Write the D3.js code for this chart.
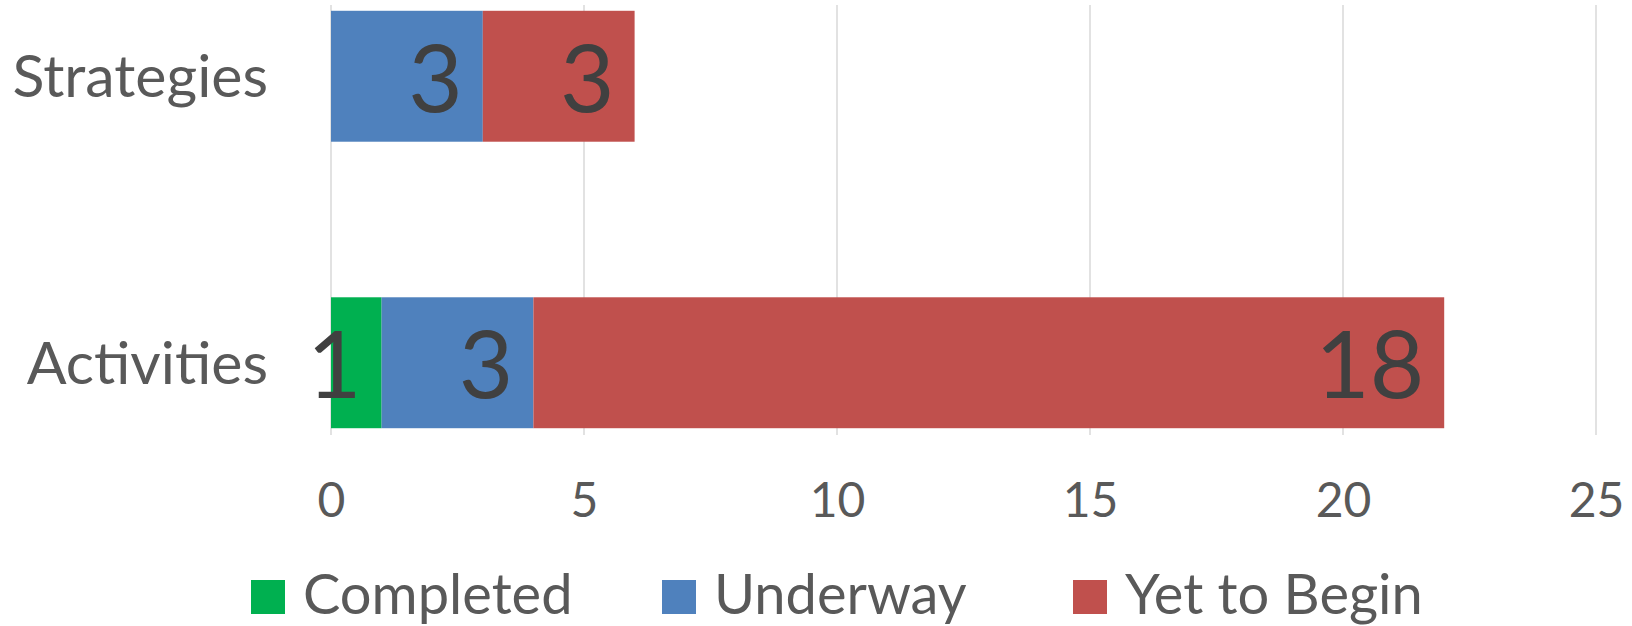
<!DOCTYPE html>
<html>
<head>
<meta charset="utf-8">
<script src="https://cdn.jsdelivr.net/npm/d3@7"></script>
<style>
  html, body { margin: 0; padding: 0; background: #fff; }
  svg text { font-family: Lato, "Open Sans", sans-serif; }
</style>
</head>
<body>
<div id="chart"></div>
<script>
// Chart data
const categories = ["Strategies", "Activities"];
const seriesNames = ["Completed", "Underway", "Yet to Begin"];
const completed = [0, 1];
const underway = [3, 3];
const yetToBegin = [3, 18];
const xTicks = [0, 5, 10, 15, 20, 25];

const width = 1632;
const height = 626;
const colors = ["#00B050", "#4F81BD", "#C0504D"];

const svg = d3.select("#chart").append("svg")
    .attr("width", width)
    .attr("height", height);

// Stack the series
const rows = categories.map((c, i) => ({
    category: c,
    "Completed": completed[i],
    "Underway": underway[i],
    "Yet to Begin": yetToBegin[i]
}));
const stacked = d3.stack().keys(seriesNames)(rows);

const x = d3.scaleLinear()
    .domain([0, 25])
    .range([331, 1596]);

const y = d3.scaleBand()
    .domain(categories)
    .range([-67, 506])
    .paddingInner(0.543)
    .paddingOuter(0.2715);

// Vertical gridlines
svg.append("g")
    .selectAll("line")
    .data(xTicks)
    .join("line")
    .attr("x1", d => x(d))
    .attr("x2", d => x(d))
    .attr("y1", 5)
    .attr("y2", 435)
    .attr("stroke", "#D9D9D9")
    .attr("stroke-width", 1.5);

// Bars
const layers = svg.append("g")
    .selectAll("g")
    .data(stacked)
    .join("g")
    .attr("fill", (d, i) => colors[i]);

layers.selectAll("rect")
    .data(d => d.filter(p => p[1] - p[0] > 0))
    .join("rect")
    .attr("x", d => x(d[0]))
    .attr("y", d => y(d.data.category))
    .attr("width", d => x(d[1]) - x(d[0]))
    .attr("height", y.bandwidth());

// Data labels, inside end
layers.selectAll("text")
    .data(d => d.filter(p => p[1] - p[0] > 0).map(p => ({ p, key: d.key })))
    .join("text")
    .attr("x", d => x(d.p[1]) - 20)
    .attr("y", d => y(d.p.data.category) + y.bandwidth() / 2)
    .attr("dy", "0.38em")
    .attr("text-anchor", "end")
    .attr("fill", "#404040")
    .style("font-size", "94px")
    .text(d => d.p[1] - d.p[0]);

// Category labels
svg.append("g")
    .selectAll("text")
    .data(categories)
    .join("text")
    .attr("x", 268)
    .attr("y", d => y(d) + y.bandwidth() / 2)
    .attr("dy", "0.36em")
    .attr("text-anchor", "end")
    .attr("fill", "#595959")
    .style("font-size", "59px")
    .text(d => d);

// X axis tick labels
const xAxis = svg.append("g")
    .attr("transform", "translate(0,435)")
    .call(d3.axisBottom(x).tickValues(xTicks).tickSize(0).tickPadding(48));
xAxis.select(".domain").remove();
xAxis.selectAll("text")
    .attr("fill", "#595959")
    .style("font-size", "48px")
    .style("font-family", "Lato, 'Open Sans', sans-serif");

// Legend
const legendX = [251, 662, 1073];
const legend = svg.append("g")
    .selectAll("g")
    .data(seriesNames)
    .join("g")
    .attr("transform", (d, i) => `translate(${legendX[i]},580)`);

legend.append("rect")
    .attr("width", 34)
    .attr("height", 34)
    .attr("fill", (d, i) => colors[i]);

legend.append("text")
    .attr("x", 52)
    .attr("y", 34)
    .attr("fill", "#595959")
    .style("font-size", "56px")
    .text(d => d);
</script>
</body>
</html>
